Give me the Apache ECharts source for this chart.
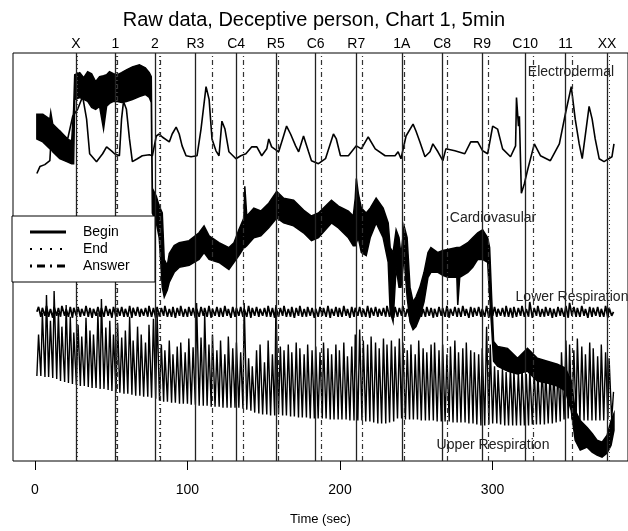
<!DOCTYPE html>
<html><head><meta charset="utf-8">
<script src="https://cdn.jsdelivr.net/npm/echarts/dist/echarts.min.js"></script>
<style>html,body{margin:0;padding:0;background:#fff}#c{width:628px;height:531px}</style>
</head><body><div id="c"></div>
<script>
// ---- event markers (seconds) ----
const eventNames = ['X','1','2','R3','C4','R5','C6','R7','1A','C8','R9','C10','11','XX'];
const beginTimes = [26.9,52.8,78.7,105.2,131.9,157.9,184.0,210.7,240.5,267.0,293.1,321.4,347.9,375.1];
const endTimes   = [27.6,53.6,81.8,116.2,136.5,159.6,187.5,214.4,241.8,270.1,297.1,326.4,352.0,376.8];
const answerTimes= [null,53.8,82.0,116.4,136.7,159.8,187.7,214.6,242.0,270.3,297.3,326.6,352.2,null];
const tickValues = [0,100,200,300];

// ---- Electrodermal (time sec, level arbitrary units) ----
const edaTime = [1.3,3.3,6.5,9.8,11.1,16.3,21.5,24.8,28.0,31.3,
33.9,35.9,40.4,44.4,47.0,50.2,52.2,55.4,56.8,58.1,
60.0,62.0,63.9,67.2,70.4,75.0,77.0,79.6,81.5,83.5,
88.1,90.0,92.6,94.6,96.5,99.1,102.4,106.3,108.9,112.2,
114.2,116.1,118.7,120.7,122.6,124.6,127.2,131.8,135.0,138.3,
142.2,145.5,148.7,152.0,153.3,155.2,159.8,162.4,165.0,167.6,
170.9,172.9,176.1,179.4,181.3,185.9,190.5,195.7,197.6,200.3,
205.5,210.7,214.0,218.5,223.1,229.6,236.1,238.1,240.0,243.3,
247.9,249.8,252.4,255.7,259.0,260.9,264.2,267.4,269.4,275.3,
281.8,285.7,290.3,293.5,296.8,300.1,303.3,306.6,311.8,315.1,
315.7,317.0,317.6,318.9,320.9,322.9,327.4,331.4,337.9,343.8,
347.7,351.6,354.2,356.8,358.8,363.3,365.3,367.3,369.9,373.1,
378.3,379.6];
const edaLevel = [291,298,300,304,338,334,326,349,356,369,
346,311,303,311,318,314,311,309,346,364,
356,326,303,306,309,310,309,329,331,328,
323,331,338,331,319,309,308,309,336,379,
366,326,314,309,344,336,313,306,309,311,
318,318,309,316,326,318,313,326,339,331,
319,313,329,313,304,301,306,331,326,309,
309,319,316,328,316,309,309,313,306,329,
341,334,323,308,313,321,313,304,316,314,
311,323,323,314,311,339,336,316,308,319,
368,339,349,271,281,294,321,309,304,321,
351,379,346,321,306,359,346,326,306,303,
308,321];

// ---- Cardiovascular envelope (time, upper edge, lower edge) ----
const cardioTime = [1.3,5.2,9.8,10.4,11.7,16.3,20.9,24.1,25.4,26.1,
29.4,32.0,34.6,37.2,39.8,42.4,45.0,47.0,48.9,51.5,
54.1,56.8,60.0,63.9,68.5,72.4,75.0,76.3,77.0,79.6,
81.5,83.5,84.8,86.8,88.1,91.3,94.6,101.1,107.6,110.9,
114.2,120.7,127.2,130.5,133.7,137.0,137.6,138.9,143.5,148.1,
153.3,158.5,163.1,169.6,176.1,181.3,185.9,194.4,199.0,205.5,
208.7,210.0,210.7,212.0,214.0,217.2,219.8,223.7,228.3,231.6,
232.9,234.8,236.8,238.7,240.0,242.0,244.0,245.9,247.9,249.8,
252.4,255.1,257.7,259.6,264.2,267.4,270.7,276.6,277.2,278.5,
283.8,287.0,290.3,293.5,296.8,298.1,299.4,300.7,303.3,309.8,
316.4,322.9,329.4,335.9,342.5,347.7,351.6,354.2,357.5,362.0,
365.3,368.5,371.8,375.1,377.7,379.6];
const cardioTop = [351,351,346,353,341,334,326,324,356,391,
393,388,394,392,384,389,390,391,394,392,
391,393,396,399,401,398,393,389,276,268,
258,251,204,198,210,218,221,223,231,238,
228,221,216,221,234,246,278,248,256,253,
261,273,266,264,254,248,251,264,258,253,
248,266,286,271,256,251,256,266,256,241,
216,211,234,226,208,238,226,176,161,166,
176,191,211,216,211,213,214,216,216,216,
221,226,231,234,226,216,166,121,116,114,
104,114,104,101,98,94,81,51,41,34,
28,21,19,26,41,48];
const cardioBottom = [326,323,316,316,313,306,303,301,301,366,
368,366,364,358,356,359,336,359,362,364,
364,363,364,366,369,371,368,363,251,241,
226,176,166,173,181,191,196,198,204,211,
204,201,194,201,208,216,216,218,226,228,
236,246,241,238,231,223,226,241,236,226,
218,218,221,226,211,208,226,241,226,201,
151,141,196,176,176,206,166,141,133,136,
146,161,186,191,191,188,186,186,158,186,
191,196,204,204,201,166,136,101,96,91,
88,91,81,79,76,71,51,21,11,14,
9,6,4,8,16,31];

// ---- Respiration (shared breath extrema times, sec) ----
const respTime = [1.3,
2.4,3.9,4.9,6.6,7.6,9.0,10.2,11.7,12.6,14.3,15.4,16.8,17.7,19.5,20.5,22.0,23.2,24.6,25.5,27.2,
28.3,29.8,30.7,32.4,33.5,35.0,36.1,37.5,38.4,40.1,41.3,42.8,43.6,45.3,46.5,48.0,49.1,50.5,51.5,53.2,
54.2,55.7,56.9,58.4,59.3,60.9,62.1,63.6,64.4,66.1,67.3,68.8,69.7,71.3,72.5,74.0,74.8,76.5,77.7,79.2,
80.1,81.7,82.9,84.4,85.2,86.9,88.1,89.6,90.5,92.1,93.3,94.8,95.6,97.3,98.5,100.0,100.9,102.5,103.7,105.2,
106.0,107.7,108.9,110.4,111.3,112.9,114.1,115.6,116.4,118.1,119.3,120.8,121.7,123.3,124.5,126.0,126.8,128.5,129.7,131.2,
132.1,133.7,134.9,136.4,137.2,138.9,140.1,141.6,142.5,144.1,145.3,146.8,147.6,149.3,150.5,152.0,152.9,154.5,155.7,157.2,
158.0,159.7,160.9,162.4,163.3,164.9,166.1,167.6,168.4,170.1,171.3,172.8,173.7,175.3,176.5,178.0,178.8,180.5,181.7,183.2,
184.1,185.7,186.9,188.4,189.2,190.9,192.1,193.6,194.5,196.1,197.3,198.8,199.6,201.3,202.5,204.0,204.9,206.5,207.7,209.2,
210.0,211.7,212.9,214.4,215.3,216.9,218.1,219.6,220.4,222.1,223.3,224.8,225.7,227.3,228.5,230.0,230.8,232.5,233.7,235.2,
236.1,237.7,238.9,240.4,241.2,242.9,244.1,245.6,246.5,248.1,249.3,250.8,251.6,253.3,254.5,256.0,256.9,258.5,259.7,261.2,
262.0,263.7,264.9,266.4,267.3,268.9,270.1,271.6,272.4,274.1,275.3,276.8,277.7,279.3,280.5,282.0,282.8,284.5,285.7,287.2,
288.1,289.7,290.9,292.4,293.2,294.9,296.1,297.6,298.5,300.1,301.3,302.8,303.6,305.3,306.5,308.0,308.9,310.5,311.7,313.2,
314.0,315.7,316.9,318.4,319.3,320.9,322.1,323.6,324.4,326.1,327.3,328.8,329.7,331.3,332.5,334.0,334.8,336.5,337.7,339.2,
340.1,341.7,342.9,344.4,345.2,346.9,348.1,349.6,350.5,352.1,353.3,354.8,355.6,357.3,358.5,360.0,360.9,362.5,363.7,365.2,
366.0,367.7,368.9,370.4,371.3,372.9,374.1,375.6,376.4,378.1,379.3];
const upperResp = [86,
128,86,150,85,168,85,142,84,172,83,150,81,136,80,158,79,146,78,130,77,
138,76,126,76,145,75,132,74,128,74,150,73,164,73,135,72,142,71,128,70,
140,69,125,68,132,68,146,67,122,66,136,66,128,65,120,65,138,64,144,63,
150,61,118,60,112,60,122,59,108,59,116,58,120,58,110,58,124,57,115,57,
160,56,125,56,150,56,118,55,128,55,112,55,122,54,108,54,126,54,114,54,
120,54,110,53,160,52,104,51,96,49,112,48,118,47,100,47,122,46,108,46,
158,47,116,46,112,46,118,45,110,45,120,44,114,44,108,44,118,43,112,43,
116,43,110,43,120,43,114,42,108,42,118,42,112,42,120,42,106,41,116,41,
128,41,133,41,122,40,118,40,126,39,120,38,114,38,124,38,118,39,122,40,
116,43,124,43,120,42,112,42,118,42,108,42,122,41,114,41,110,41,118,41,
120,40,112,40,118,40,108,40,116,39,122,39,110,39,114,39,120,38,112,38,
110,37,108,36,114,36,136,37,118,38,96,38,92,37,94,36,90,36,95,36,
92,36,90,36,96,36,88,36,94,37,92,37,90,37,96,37,92,38,90,38,
92,39,94,40,110,42,122,43,118,42,112,41,124,41,116,41,108,41,120,41,
114,41,106,41,118,41,110,42,104,42,70];
const lowerResp = [151,
156,146,155,147,157,146,154,145,156,147,155,146,157,147,154,146,156,145,155,147,
156,146,154,147,157,146,155,145,154,147,156,146,155,146,157,147,154,145,156,146,
155,147,156,146,154,146,157,145,155,147,156,146,154,147,155,146,157,146,155,145,
156,146,155,147,157,146,154,146,156,145,155,147,157,146,154,146,156,147,155,145,
154,146,156,147,155,146,157,145,154,147,156,146,155,146,157,147,154,145,156,146,
155,147,156,146,154,146,157,145,155,147,156,146,154,147,155,146,157,146,155,145,
156,146,155,147,157,146,154,146,156,145,155,147,157,146,154,146,156,147,155,145,
154,146,156,147,155,146,157,145,154,147,156,146,155,146,157,147,154,145,156,146,
155,147,156,146,154,146,157,145,155,147,156,146,154,147,155,146,157,146,155,145,
156,146,155,147,157,146,154,146,156,145,155,147,157,146,154,146,156,147,155,145,
154,146,156,147,155,146,157,145,154,147,156,146,155,146,157,147,154,145,156,146,
155,147,156,146,154,146,157,145,155,147,156,146,154,147,155,146,157,146,155,145,
156,146,155,147,157,146,154,146,161,145,155,147,157,146,154,146,156,147,155,145,
154,146,156,147,155,146,157,145,160,147,156,146,155,146,157,147,154,145,156,146,
155,147,156,146,154,146,157,145,155,147,151];

const FONT = '"Liberation Sans", Arial, Helvetica, sans-serif';
function pairs(xs, ys){ return xs.map((x,i)=>[x, ys[i]]); }

const chart = echarts.init(document.getElementById('c'), null, {renderer:'canvas'});

const beginLines = beginTimes.map((t,i)=>({xAxis:t, name:eventNames[i]}));
const endLines = endTimes.map(t=>({xAxis:t}));
const answerLines = answerTimes.filter(t=>t!==null).map(t=>({xAxis:t}));

const option = {
  animation:false,
  backgroundColor:'#fff',
  textStyle:{fontFamily:FONT},
  title:{text:'Raw data, Deceptive person, Chart 1, 5min', left:'center', top:5,
    textStyle:{fontSize:20, fontWeight:'normal', color:'#000', fontFamily:FONT}},
  grid:{left:13, right:-3, top:53, bottom:65, show:true, borderColor:'#000', borderWidth:1},
  xAxis:{type:'value', min:-14.35, max:388.8,
    axisLine:{show:false}, splitLine:{show:false},
    axisTick:{show:true, length:9, lineStyle:{color:'#000', width:1}, customValues:tickValues},
    axisLabel:{customValues:tickValues, fontSize:14, color:'#000', margin:22, fontFamily:FONT},
    name:'Time (sec)', nameLocation:'middle', nameGap:52,
    nameTextStyle:{fontSize:13, color:'#000', fontFamily:FONT}},
  yAxis:{type:'value', min:0, max:413, show:false},
  series:[
    {type:'custom', name:'Cardiovasular', coordinateSystem:'cartesian2d', data:[[0,0]], silent:true, z:3,
     renderItem:function(params, api){
       const pts=[];
       for(let i=0;i<cardioTime.length;i++) pts.push(api.coord([cardioTime[i], cardioTop[i]]));
       for(let i=cardioTime.length-1;i>=0;i--) pts.push(api.coord([cardioTime[i], cardioBottom[i]]));
       return {type:'polygon', shape:{points:pts}, style:{fill:'#000', stroke:'#000', lineWidth:1.5}};
     }},
    {type:'line', name:'Upper Respiration', data:pairs(respTime, upperResp), showSymbol:false, silent:true,
     lineStyle:{color:'#000', width:1.4}, z:2},
    {type:'line', name:'Lower Respiration', data:pairs(respTime, lowerResp), showSymbol:false, silent:true,
     lineStyle:{color:'#000', width:1.7}, z:2},
    {type:'line', name:'Electrodermal', data:pairs(edaTime, edaLevel), showSymbol:false, silent:true,
     lineStyle:{color:'#000', width:1.6}, z:4},
    {type:'line', name:'Begin', data:[], silent:true,
     markLine:{symbol:['none','none'], silent:true, animation:false,
       lineStyle:{color:'#222', type:'solid', width:1.3},
       label:{show:true, position:'end', formatter:'{b}', color:'#000', fontSize:14, distance:2, fontFamily:FONT},
       emphasis:{disabled:true},
       data:beginLines}},
    {type:'line', name:'End', data:[], silent:true,
     markLine:{symbol:['none','none'], silent:true, animation:false,
       lineStyle:{color:'#444', type:[1,3], width:1},
       label:{show:false}, emphasis:{disabled:true}, data:endLines}},
    {type:'line', name:'Answer', data:[], silent:true,
     markLine:{symbol:['none','none'], silent:true, animation:false,
       lineStyle:{color:'#333', type:[5,3,1,3], width:1.2},
       label:{show:false}, emphasis:{disabled:true}, data:answerLines}}
  ],
  graphic:[
    {type:'rect', z:100, shape:{x:12, y:216, width:143, height:66}, style:{fill:'#fff', stroke:'#000', lineWidth:1}},
    {type:'line', z:101, shape:{x1:30,y1:232,x2:66,y2:232}, style:{stroke:'#000', lineWidth:3}},
    {type:'line', z:101, shape:{x1:30,y1:249,x2:66,y2:249}, style:{stroke:'#000', lineWidth:2, lineDash:[2,8]}},
    {type:'line', z:101, shape:{x1:30,y1:266,x2:66,y2:266}, style:{stroke:'#000', lineWidth:3, lineDash:[2,5,8,5]}},
    {type:'text', z:101, x:83, y:232, style:{text:'Begin', fontSize:14, fontFamily:FONT, fill:'#000', verticalAlign:'middle'}},
    {type:'text', z:101, x:83, y:249, style:{text:'End', fontSize:14, fontFamily:FONT, fill:'#000', verticalAlign:'middle'}},
    {type:'text', z:101, x:83, y:266, style:{text:'Answer', fontSize:14, fontFamily:FONT, fill:'#000', verticalAlign:'middle'}},
    {type:'text', z:100, x:571, y:72, style:{text:'Electrodermal', fontSize:14, fontFamily:FONT, fill:'#222', align:'center', verticalAlign:'middle'}},
    {type:'text', z:100, x:493, y:218, style:{text:'Cardiovasular', fontSize:14, fontFamily:FONT, fill:'#222', align:'center', verticalAlign:'middle'}},
    {type:'text', z:100, x:572, y:297, style:{text:'Lower Respiration', fontSize:14, fontFamily:FONT, fill:'#222', align:'center', verticalAlign:'middle'}},
    {type:'text', z:100, x:493, y:445, style:{text:'Upper Respiration', fontSize:14, fontFamily:FONT, fill:'#222', align:'center', verticalAlign:'middle'}}
  ]
};
chart.setOption(option);
</script></body></html>
